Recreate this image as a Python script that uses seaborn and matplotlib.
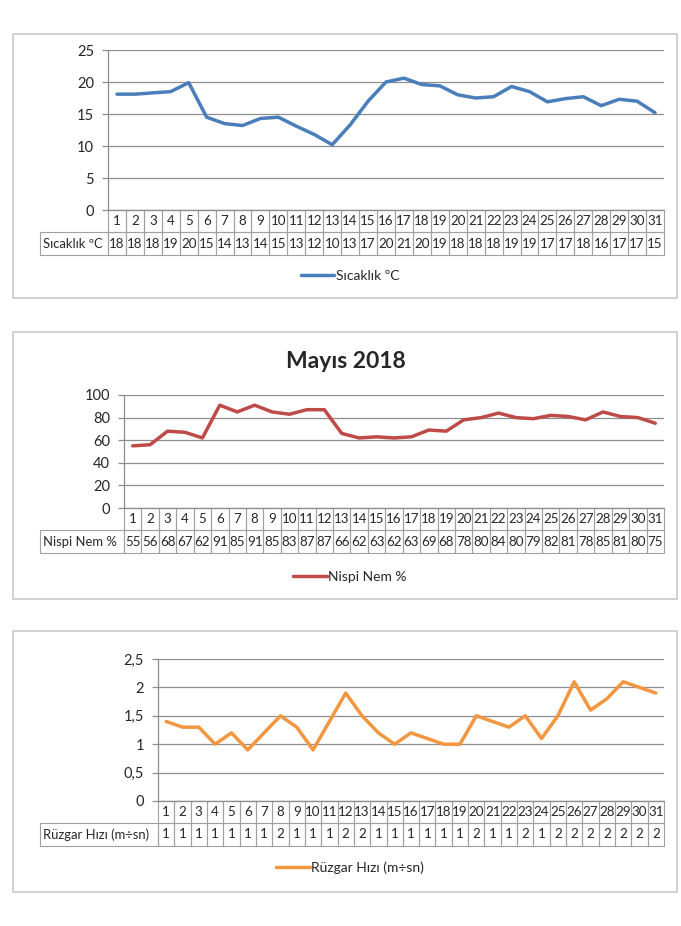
import numpy as np
import pandas as pd
import seaborn as sns
import matplotlib.pyplot as plt
from matplotlib.patches import Rectangle
from matplotlib import transforms
from matplotlib.ticker import FuncFormatter

# --- veriler (Mayıs 2018) ---
days = list(range(1, 32))

sicaklik = [18.1, 18.1, 18.3, 18.5, 19.9, 14.5, 13.5, 13.2, 14.3, 14.5, 13.1,
            11.8, 10.2, 13.3, 17.0, 20.0, 20.6, 19.6, 19.4, 18.0, 17.5, 17.7,
            19.3, 18.5, 16.9, 17.4, 17.7, 16.3, 17.3, 17.0, 15.2]
sicaklik_tablo = [18, 18, 18, 19, 20, 15, 14, 13, 14, 15, 13, 12, 10, 13, 17, 20,
                  21, 20, 19, 18, 18, 18, 19, 19, 17, 17, 18, 16, 17, 17, 15]

nem = [55, 56, 68, 67, 62, 91, 85, 91, 85, 83, 87, 87, 66, 62, 63, 62, 63, 69,
       68, 78, 80, 84, 80, 79, 82, 81, 78, 85, 81, 80, 75]
nem_tablo = [55, 56, 68, 67, 62, 91, 85, 91, 85, 83, 87, 87, 66, 62, 63, 62, 63,
             69, 68, 78, 80, 84, 80, 79, 82, 81, 78, 85, 81, 80, 75]

ruzgar = [1.4, 1.3, 1.3, 1.0, 1.2, 0.9, 1.2, 1.5, 1.3, 0.9, 1.4, 1.9, 1.5, 1.2,
          1.0, 1.2, 1.1, 1.0, 1.0, 1.5, 1.4, 1.3, 1.5, 1.1, 1.5, 2.1, 1.6, 1.8,
          2.1, 2.0, 1.9]
ruzgar_tablo = [1, 1, 1, 1, 1, 1, 1, 2, 1, 1, 1, 2, 2, 1, 1, 1, 1, 1, 1, 2, 1,
                1, 2, 1, 2, 2, 2, 2, 2, 2, 2]

W, H = 681, 926
sns.set_theme(style='white')
plt.rcParams['font.family'] = ['Lato', 'DejaVu Sans']

fig = plt.figure(figsize=(W / 100, H / 100), dpi=100)


def box(l, t, r, b):
    fig.patches.append(Rectangle((l / W, 1 - b / H), (r - l) / W, (b - t) / H,
                                 transform=fig.transFigure, fill=False,
                                 ec='#c9c9c9', lw=1.2))


def panel(vals, tablo, label, color, ylim, yticks, l, t, r, b, leg_y,
          fmt=None, h1=22, h2=23):
    ax = fig.add_axes([l / W, 1 - b / H, (r - l) / W, (b - t) / H])
    df = pd.DataFrame({'gun': days, 'deger': vals})
    sns.lineplot(data=df, x='gun', y='deger', ax=ax, color=color, lw=2.5,
                 label=label, legend=False)
    ax.set_xlim(0.5, 31.5)
    ax.set_ylim(*ylim)
    ax.set_yticks(yticks)
    if fmt:
        ax.yaxis.set_major_formatter(FuncFormatter(fmt))
    ax.set_xticks([])
    ax.set_xlabel('')
    ax.set_ylabel('')
    ax.grid(axis='y', color='#8e8e8e', lw=0.9)
    for s in ['top', 'right']:
        ax.spines[s].set_visible(False)
    for s in ['left', 'bottom']:
        ax.spines[s].set_color('#8e8e8e')
        ax.spines[s].set_linewidth(0.9)
    ax.tick_params(axis='y', left=True, length=4, color='#8e8e8e', width=0.9,
                   labelsize=10.5, pad=6)

    # veri tablosu
    ax_h = b - t
    cw = (r - l) / 31
    tr = transforms.blended_transform_factory(ax.transData, ax.transAxes)
    y1 = -h1 / ax_h
    y2 = -(h1 + h2) / ax_h
    ec = '#a0a0a0'
    for d, v in zip(days, tablo):
        ax.add_patch(Rectangle((d - 0.5, y1), 1, -y1, transform=tr, fill=False,
                               ec=ec, lw=0.8, clip_on=False))
        ax.add_patch(Rectangle((d - 0.5, y2), 1, y1 - y2, transform=tr,
                               fill=False, ec=ec, lw=0.8, clip_on=False))
        ax.text(d, y1 / 2, str(d), transform=tr, ha='center', va='center',
                fontsize=9.6)
        ax.text(d, (y1 + y2) / 2, str(v), transform=tr, ha='center',
                va='center', fontsize=9.6)
    x0 = 0.5 - (l - 40) / cw
    ax.add_patch(Rectangle((x0, y2), 0.5 - x0, y1 - y2, transform=tr,
                           fill=False, ec=ec, lw=0.8, clip_on=False))
    ax.text(x0 + 3 / cw, (y1 + y2) / 2, label, transform=tr, ha='left',
            va='center', fontsize=9.4)

    fig.legend(handles=ax.get_lines()[:1], labels=[label], loc='center',
               bbox_to_anchor=(350 / W, 1 - leg_y / H), frameon=False,
               fontsize=10, handlelength=2.4, handletextpad=0.1)
    return ax


box(13, 34, 677, 298)
panel(sicaklik, sicaklik_tablo, 'Sıcaklık ºC', '#4a7ebb', (0, 25),
      range(0, 26, 5), 108, 50, 664, 210, 276)

box(13, 332, 677, 599)
fig.text(346 / W, 1 - 361 / H, 'Mayıs 2018', ha='center', va='center',
         fontsize=16.5, fontweight='bold')
panel(nem, nem_tablo, 'Nispi Nem %', '#be4b48', (0, 100), range(0, 101, 20),
      124, 395, 664, 508, 577)

box(13, 631, 677, 892)
panel(ruzgar, ruzgar_tablo, 'Rüzgar Hızı (m÷sn)', '#f39640', (0, 2.5),
      [0, 0.5, 1, 1.5, 2, 2.5], 158, 659, 664, 801, 868,
      fmt=lambda v, p: ('%g' % v).replace('.', ','))

fig.savefig('out.png', dpi=100, facecolor='white')
